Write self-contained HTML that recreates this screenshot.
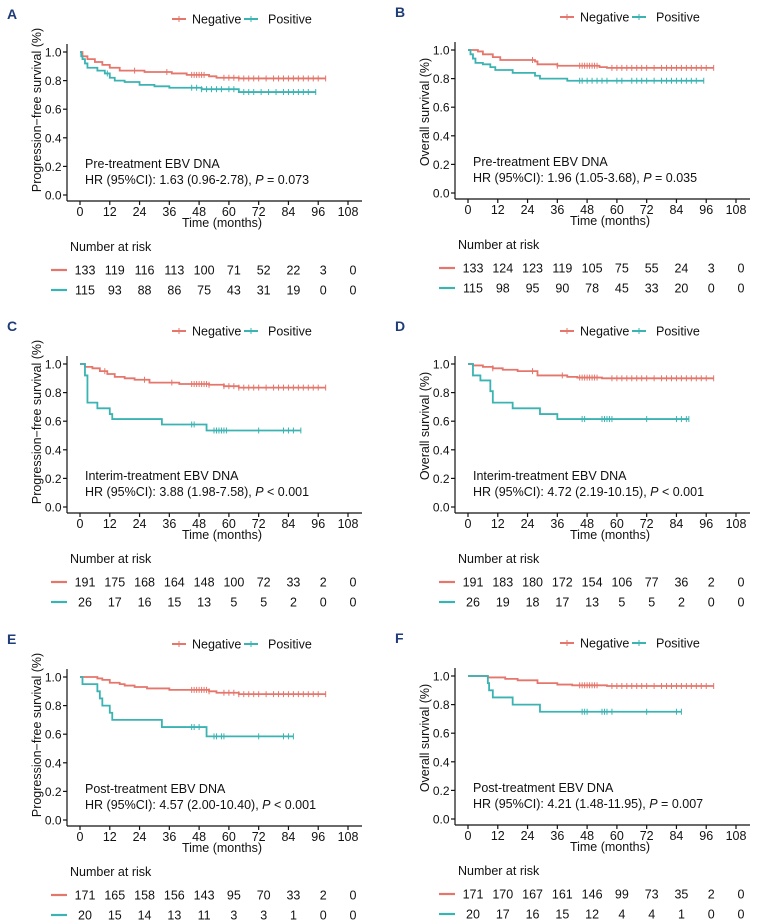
<!DOCTYPE html>
<html><head><meta charset="utf-8"><style>
body{margin:0;background:#fff}
svg{display:block;font-family:"Liberation Sans",Arial,sans-serif}
</style></head><body>
<svg id="fig" width="760" height="924" viewBox="0 0 760 924" xmlns="http://www.w3.org/2000/svg"></svg>
<script>
const NEG='#E5766B', POS='#3BB3B3';
const xTicks=[0,12,24,36,48,60,72,84,96,108];
const yTicks=[0,0.2,0.4,0.6,0.8,1.0];
const panelLetters=['A','B','C','D','E','F'];
const yTitles=['Progression−free survival (%)','Overall survival (%)','Progression−free survival (%)','Overall survival (%)','Progression−free survival (%)','Overall survival (%)'];
const annot1=['Pre-treatment EBV DNA','Pre-treatment EBV DNA','Interim-treatment EBV DNA','Interim-treatment EBV DNA','Post-treatment EBV DNA','Post-treatment EBV DNA'];
const hrText=['HR (95%CI): 1.63 (0.96-2.78), ','HR (95%CI): 1.96 (1.05-3.68), ','HR (95%CI): 3.88 (1.98-7.58), ','HR (95%CI): 4.72 (2.19-10.15), ','HR (95%CI): 4.57 (2.00-10.40), ','HR (95%CI): 4.21 (1.48-11.95), '];
const pText=['= 0.073','= 0.035','< 0.001','< 0.001','< 0.001','= 0.007'];
const negT=[[0,1,3,6,9,12,16,26,37,43,52,55,64],[0,4,6,10,13,27,28,36,53,56],[0,2,5,8,11,14,18,22,28,40,52,58,64],[0,2,6,10,14,20,28,40,44,54],[0,7,9,12,16,18,22,27,36,52,55,64],[0,8,15,20,28,36,42,56]];
const negS=[[1,0.97,0.95,0.93,0.91,0.89,0.87,0.86,0.85,0.84,0.83,0.82,0.815],[1,0.99,0.97,0.95,0.93,0.92,0.90,0.89,0.88,0.875],[1,0.98,0.97,0.95,0.93,0.91,0.90,0.89,0.87,0.86,0.855,0.845,0.835],[1,0.99,0.98,0.97,0.96,0.95,0.92,0.91,0.905,0.90],[1,0.99,0.98,0.96,0.95,0.94,0.93,0.92,0.91,0.90,0.89,0.88],[1,0.99,0.98,0.97,0.95,0.94,0.935,0.93]];
const negEnd=[99,99,99,99,99,99];
const posT=[[0,0.5,1,2,3,7,10,12,14,18,24,30,36,49,64],[0,1,2,3,6,9,11,18,27,29,40],[0,2,3,7,12,13,33,51],[0,2,5,9,10,18,29,36],[0,1,7,8,9,12,13,33,51],[0,8,8.5,10,18,29]];
const posS=[[1,0.97,0.95,0.92,0.89,0.87,0.85,0.82,0.80,0.79,0.77,0.76,0.75,0.74,0.72],[1,0.97,0.94,0.91,0.90,0.88,0.86,0.84,0.82,0.80,0.785],[1,0.92,0.73,0.69,0.65,0.615,0.577,0.535],[1,0.92,0.885,0.81,0.73,0.69,0.65,0.615],[1,0.95,0.90,0.85,0.80,0.75,0.70,0.65,0.585],[1,0.95,0.90,0.85,0.80,0.75]];
const posEnd=[95,95,89,89,86,86];
const negCens=[[22,35,45,46,47,48,49,50,58,60,62,64,66,68,70,72,75,78,80,82,84,86,88,90,92,94,96],[26,36,45,46,47,48,49,50,51,52,58,60,62,64,66,68,70,72,75,78,80,82,84,86,88,90,92,94,96],[10,26,37,45,46,47,48,49,50,51,52,58,60,62,64,66,68,70,72,75,78,80,82,84,86,88,90,92,94,96],[10,26,38,45,46,47,48,49,50,51,52,58,60,62,64,66,68,70,72,75,78,80,82,84,86,88,90,92,94,96],[45,46,47,48,49,50,51,52,58,60,62,64,66,68,70,72,75,78,80,82,84,86,88,90,92,94,96],[45,46,47,48,49,50,51,52,58,60,62,64,66,68,70,72,75,78,80,82,84,86,88,90,92,94,96]];
const posCens=[[11,45,47,49,51,53,55,57,60,62,66,68,70,73,76,79,82,84,86,88,90,92],[45,46,48,50,52,54,56,60,62,66,68,70,72,75,78,80,82,84,86,88,90,92],[45,46,54,55,56,57,58,59,72,82,84,86],[46,47,54,55,56,57,58,72,84,86,88],[45,46,48,54,55,57,58,72,82,84],[46,47,48,54,55,56,58,72,84]];
const riskNeg=[[133,119,116,113,100,71,52,22,3,0],[133,124,123,119,105,75,55,24,3,0],[191,175,168,164,148,100,72,33,2,0],[191,183,180,172,154,106,77,36,2,0],[171,165,158,156,143,95,70,33,2,0],[171,170,167,161,146,99,73,35,2,0]];
const riskPos=[[115,93,88,86,75,43,31,19,0,0],[115,98,95,90,78,45,33,20,0,0],[26,17,16,15,13,5,5,2,0,0],[26,19,18,17,13,5,5,2,0,0],[20,15,14,13,11,3,3,1,0,0],[20,17,16,15,12,4,4,1,0,0]];

const NS='http://www.w3.org/2000/svg';
const svg=document.getElementById('fig');
function mk(tag,attrs,parent,text){const e=document.createElementNS(NS,tag);for(const k in attrs)e.setAttribute(k,attrs[k]);if(text!==undefined)e.textContent=text;(parent||svg).appendChild(e);return e;}
const offsets=[[0,0],[388,-2],[0,312],[388,312],[0,625],[388,624]];

offsets.forEach((o,i)=>{
  const g=mk('g',{transform:`translate(${o[0]},${o[1]})`});
  
  
  const X=t=>80+t*(268/108), Y=s=>195-s*143;
  const lt=mk('text',{x:7,y:19,'font-size':14,'font-weight':'bold',fill:'#1F3C78'},g,panelLetters[i]);
  
  
  const lg=mk('g',{},g);
  
  
  [[NEG,172,192,'Negative'],[POS,244,268,'Positive']].forEach(l=>{
    const e=mk('g',{},lg);
    
    
    mk('line',{x1:l[1],y1:19,x2:l[1]+14,y2:19,stroke:l[0],'stroke-width':2},e);
    mk('line',{x1:l[1]+7,y1:16,x2:l[1]+7,y2:22,stroke:l[0],'stroke-width':1},e);
    mk('text',{x:l[2],y:23.5,'font-size':12.5,fill:'#111'},e,l[3]);
  });
  const ax=mk('g',{stroke:'#111','stroke-width':1.2},g);
  
  
  mk('line',{x1:67,y1:44,x2:67,y2:201},ax);
  mk('line',{x1:67,y1:201,x2:362,y2:201},ax);
  yTicks.forEach(v=>{
    mk('line',{x1:63,y1:Y(v),x2:67,y2:Y(v)},ax);
    const t=mk('text',{x:61.5,y:Y(v)+4.5,'font-size':12,'text-anchor':'end',fill:'#111',stroke:'none'},g,v.toFixed(1));
    
    
  });
  xTicks.forEach(v=>{
    mk('line',{x1:X(v),y1:201,x2:X(v),y2:205},ax);
    const t=mk('text',{x:X(v),y:216,'font-size':12.5,'text-anchor':'middle',fill:'#111'},g,v);
    
    
  });
  const xt=mk('text',{x:222,y:227,'font-size':12.5,'text-anchor':'middle',fill:'#111'},g,'Time (months)');
  
  
  const yt=mk('text',{transform:`translate(41,${i%2?114:110}) rotate(-90)`,'font-size':12.5,'text-anchor':'middle',fill:'#111'},g,yTitles[i]);
  
  
  function curve(T,S,end,cens,col,nm){
    let d=`M${X(T[0])},${Y(S[0])}`;
    for(let k=1;k<T.length;k++){d+=` H${X(T[k])} V${Y(S[k])}`;}
    d+=` H${X(end)}`;
    const p=mk('path',{d:d,fill:'none',stroke:col,'stroke-width':1.8},g);
    
    
    const sv=t=>{let s=S[0];for(let k=0;k<T.length;k++)if(T[k]<=t)s=S[k];return s;};
    cens.concat([end]).forEach(t=>{
      const c=mk('line',{x1:X(t),y1:Y(sv(t))-3,x2:X(t),y2:Y(sv(t))+3,stroke:col,'stroke-width':1},g);
      
      
    });
  }
  curve(negT[i],negS[i],negEnd[i],negCens[i],NEG,'negative');
  curve(posT[i],posS[i],posEnd[i],posCens[i],POS,'positive');
  const an=mk('text',{x:85,y:168,'font-size':12.5,fill:'#111'},g,annot1[i]);
  
  
  const hr=mk('text',{x:85,y:184,'font-size':12.5,fill:'#111'},g);
  
  
  mk('tspan',{},hr,hrText[i]);
  mk('tspan',{'font-style':'italic'},hr,'P');
  mk('tspan',{},hr,' '+pText[i]);
  const rt=mk('text',{x:70,y:251,'font-size':12.5,fill:'#111'},g,'Number at risk');
  
  
  [[riskNeg[i],NEG,270,'negative'],[riskPos[i],POS,290,'positive']].forEach(r=>{
    const rg=mk('g',{},g);
    
    
    mk('line',{x1:51,y1:r[2],x2:67,y2:r[2],stroke:r[1],'stroke-width':2.2},rg);
    r[0].forEach((v,k)=>mk('text',{x:X(xTicks[k])+5,y:r[2]+4.5,'font-size':12.5,'text-anchor':'middle',fill:'#111'},rg,v));
  });
});
</script>
</body></html>
